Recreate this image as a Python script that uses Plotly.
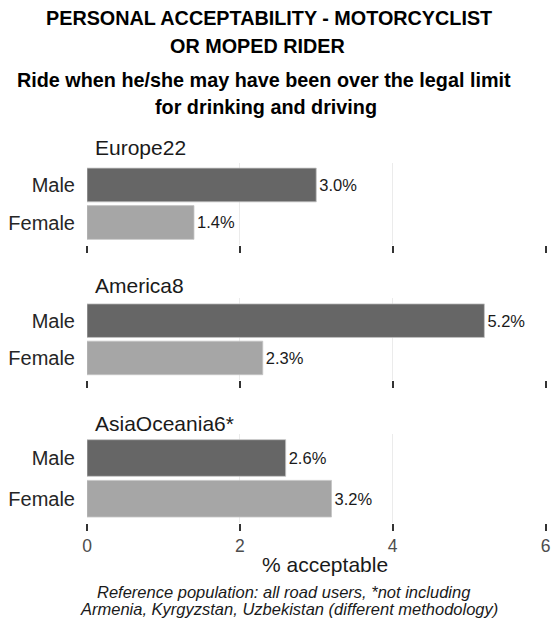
import plotly.graph_objects as go

# ---- data ----
regions = ["Europe22", "America8", "AsiaOceania6*"]
genders = ["Male", "Female"]
male_vals = [3.0, 5.2, 2.6]
female_vals = [1.4, 2.3, 3.2]
x_ticks = [0, 2, 4, 6]
title_lines = ["PERSONAL ACCEPTABILITY - MOTORCYCLIST", "OR MOPED RIDER"]
subtitle_lines = ["Ride when he/she may have been over the legal limit", "for drinking and driving"]
caption_lines = ["Reference population: all road users, *not including",
                 "Armenia, Kyrgyzstan, Uzbekistan (different methodology)"]
x_title = "% acceptable"

W, H = 556, 621
FONT = "Liberation Sans, Arial, sans-serif"
DARK = "#666666"
LIGHT = "#a6a6a6"


def fx(px):
    return px / W


def fy(py):
    return 1 - py / H


panels = [(162.5, 245.0), (298.3, 380.3), (433.6, 523.1)]
facet_title_y = [148, 285, 423]

fig = go.Figure()
for i, reg in enumerate(regions):
    sfx = "" if i == 0 else str(i + 1)
    vals = [male_vals[i], female_vals[i]]
    fig.add_trace(go.Bar(
        x=vals, y=genders, orientation="h",
        marker=dict(color=[DARK, LIGHT], line=dict(width=0.8, color="#c4c4c4")),
        width=0.9,
        text=[f"{v:.1f}%" for v in vals], textposition="outside",
        textfont=dict(size=16.5, color="#1a1a1a", family=FONT),
        cliponaxis=False, showlegend=False,
        xaxis="x" + sfx, yaxis="y" + sfx,
        hoverinfo="skip",
    ))
    top, bot = panels[i]
    fig.layout["xaxis" + sfx] = dict(
        domain=[fx(87), fx(545.5)], anchor="y" + sfx, range=[0, 6],
        tickvals=x_ticks, ticks="outside", ticklen=7, tickwidth=2, tickcolor="#333333",
        showticklabels=(i == 2),
        tickfont=dict(size=17.5, color="#4d4d4d", family=FONT),
        showgrid=True, gridcolor="#ebebeb", gridwidth=1,
        zeroline=False, showline=False, fixedrange=True, automargin=False,
    )
    fig.layout["yaxis" + sfx] = dict(
        domain=[fy(bot), fy(top)], anchor="x" + sfx,
        type="category", categoryorder="array", categoryarray=genders,
        range=[1.6, -0.6], ticks="", showgrid=False, zeroline=False, showline=False,
        tickfont=dict(size=20, color="#262626", family=FONT),
        ticklabelstandoff=11, fixedrange=True, automargin=False,
    )
    fig.add_annotation(text=reg, x=fx(93), y=fy(facet_title_y[i]), xref="paper", yref="paper",
                       xanchor="left", yanchor="middle", showarrow=False,
                       font=dict(size=21, color="#1a1a1a", family=FONT))

# titles
for txt, cx, cy in [(title_lines[0], 269, 18), (title_lines[1], 257, 46),
                    (subtitle_lines[0], 263.5, 80), (subtitle_lines[1], 265.5, 107)]:
    fig.add_annotation(text=f"<b>{txt}</b>", x=fx(cx), y=fy(cy), xref="paper", yref="paper",
                       xanchor="center", yanchor="middle", showarrow=False,
                       font=dict(size=19.8, color="#000000", family=FONT))

fig.add_annotation(text=x_title, x=fx(325), y=fy(564), xref="paper", yref="paper",
                   xanchor="center", yanchor="middle", showarrow=False,
                   font=dict(size=21, color="#1a1a1a", family=FONT))

for txt, cx, cy in [(caption_lines[0], 284, 592), (caption_lines[1], 288.5, 608.5)]:
    fig.add_annotation(text=f"<i>{txt}</i>", x=fx(cx), y=fy(cy), xref="paper", yref="paper",
                       xanchor="center", yanchor="middle", showarrow=False,
                       font=dict(size=16.5, color="#1a1a1a", family=FONT))

fig.update_layout(
    width=W, height=H, margin=dict(l=0, r=0, t=0, b=0, pad=0),
    paper_bgcolor="white", plot_bgcolor="white",
    bargap=0.1, font=dict(family=FONT),
)

fig.write_html("out.html", config={"displayModeBar": False},
               post_script="document.body.style.margin='0';document.body.style.overflow='hidden';")
